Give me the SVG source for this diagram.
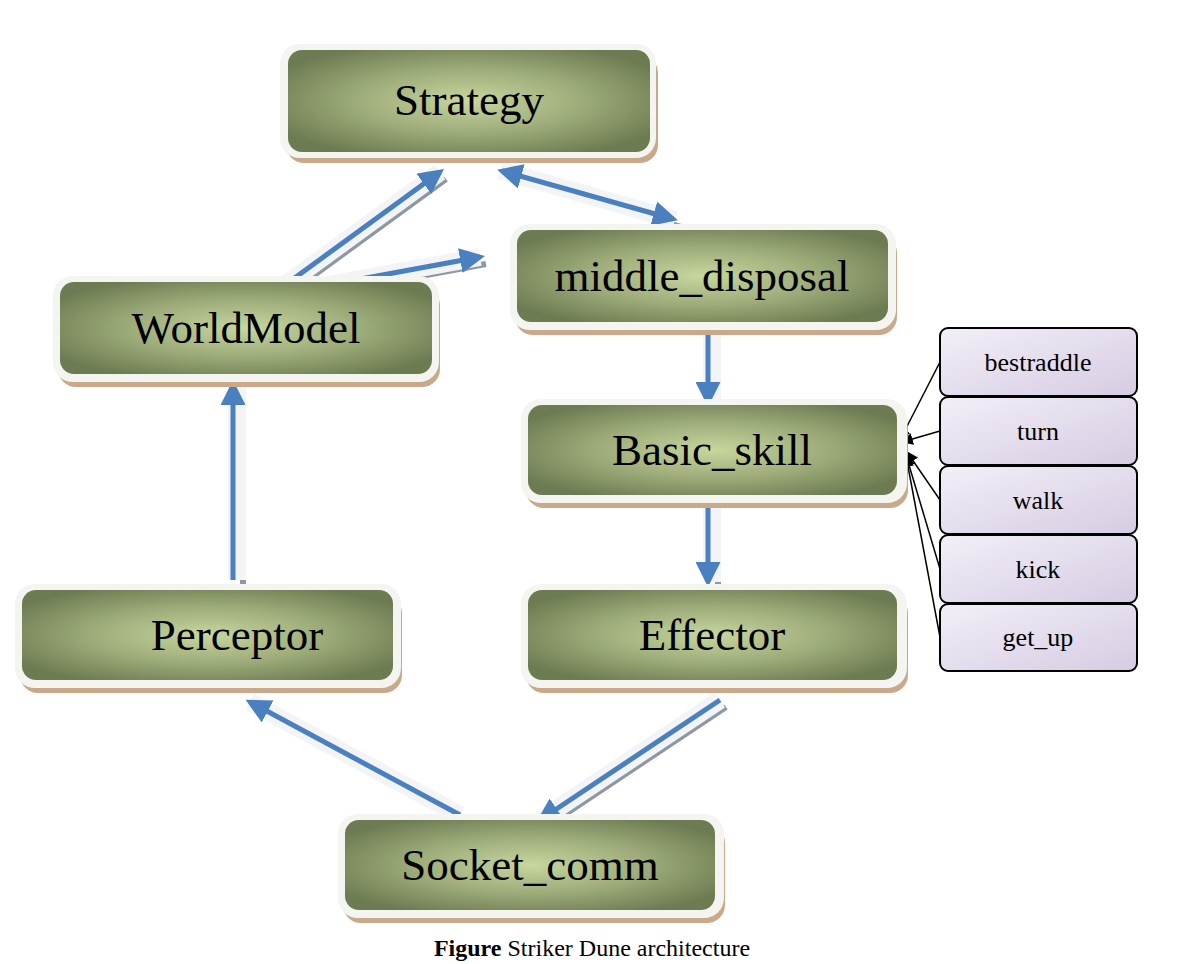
<svg xmlns="http://www.w3.org/2000/svg" width="1185" height="964" viewBox="0 0 1185 964">
<defs>
<radialGradient id="g" cx="0.5" cy="0.5" r="0.6">
<stop offset="0" stop-color="#c8d79e"/><stop offset="0.55" stop-color="#9aa977"/><stop offset="1" stop-color="#6d7b52"/>
</radialGradient>
<linearGradient id="p" x1="0" y1="0" x2="1" y2="1">
<stop offset="0" stop-color="#f3eff7"/><stop offset="1" stop-color="#d6cce3"/>
</linearGradient>
<marker id="bh" viewBox="0 0 10 10" refX="8" refY="5" markerWidth="5" markerHeight="5" orient="auto-start-reverse" markerUnits="strokeWidth"><path d="M0,0L10,5L0,10z" fill="#4a7fc0"/></marker>
<marker id="kh" viewBox="0 0 10 10" refX="9" refY="5" markerWidth="12" markerHeight="12" orient="auto" markerUnits="userSpaceOnUse"><path d="M0,0L10,5L0,10z" fill="#000"/></marker>
</defs>
<style>
.sh{fill:#c9a98a}.halo{fill:#f4f4f0}.box{fill:url(#g)}
.t{font-family:"Liberation Serif",serif;font-size:45px;text-anchor:middle;fill:#000}
.s{font-family:"Liberation Serif",serif;font-size:26px;text-anchor:middle;fill:#000}
.pb{fill:url(#p);stroke:#000;stroke-width:2}
.w{stroke:#f2f4f6;stroke-width:18;fill:none}
.gy{stroke:#8e98a2;stroke-width:6;fill:none}
.b{stroke:#4a7fc0;stroke-width:5;fill:none}
.k{stroke:#000;stroke-width:1.5;fill:none}
</style>
<g id="connectors">
<g transform="translate(6,7)"><path class="gy" d="M285,285L440,172M290,292L480,257M500,170L675,220M712,328L712,402M712,505L712,582M237,580L237,385M460,815L250,702M720,700L540,820"/></g>
<path class="w" d="M285,285L440,172M290,292L480,257M500,170L675,220M712,328L712,402M712,505L712,582M237,580L237,385M460,815L250,702M720,700L540,820"/>
<path class="b" marker-end="url(#bh)" d="M285,285L440,172"/>
<path class="b" marker-end="url(#bh)" d="M290,292L480,257"/>
<path class="b" marker-start="url(#bh)" marker-end="url(#bh)" d="M502,171L673,219"/>
<path class="b" marker-end="url(#bh)" d="M708,328L708,402"/>
<path class="b" marker-end="url(#bh)" d="M708,505L708,582"/>
<path class="b" marker-end="url(#bh)" d="M233,580L233,385"/>
<path class="b" marker-end="url(#bh)" d="M460,815L250,702"/>
<path class="b" marker-end="url(#bh)" d="M720,700L540,820"/>
<path class="k" marker-end="url(#kh)" d="M940,362L900,440"/>
<path class="k" marker-end="url(#kh)" d="M940,431L902,442"/>
<path class="k" marker-end="url(#kh)" d="M940,500L907,452"/>
<path class="k" marker-end="url(#kh)" d="M940,569L906,455"/>
<path class="k" marker-end="url(#kh)" d="M940,637L906,456"/>
</g>
<g id="strategy"><rect class="sh" x="286" y="55" width="372" height="108" rx="18"/><rect class="halo" x="280" y="44" width="376" height="114" rx="20"/><rect class="box" x="288" y="50" width="362" height="102" rx="14"/><text class="t" x="469" y="115">Strategy</text></g>
<g id="worldmodel"><rect class="sh" x="58" y="287" width="382" height="100" rx="18"/><rect class="halo" x="53" y="276" width="386" height="106" rx="20"/><rect class="box" x="60" y="282" width="372" height="92" rx="14"/><text class="t" x="246" y="343">WorldModel</text></g>
<g id="middle_disposal"><rect class="sh" x="515" y="235" width="382" height="100" rx="18"/><rect class="halo" x="510" y="224" width="386" height="106" rx="20"/><rect class="box" x="517" y="230" width="371" height="92" rx="14"/><text class="t" x="702" y="291">middle_disposal</text></g>
<g id="basic_skill"><rect class="sh" x="526" y="410" width="382" height="98" rx="18"/><rect class="halo" x="521" y="399" width="386" height="104" rx="20"/><rect class="box" x="528" y="405" width="369" height="90" rx="14"/><text class="t" x="712" y="465">Basic_skill</text></g>
<g id="perceptor"><rect class="sh" x="20" y="595" width="382" height="98" rx="18"/><rect class="halo" x="15" y="584" width="386" height="104" rx="20"/><rect class="box" x="22" y="590" width="371" height="90" rx="14"/><text class="t" x="237" y="650">Perceptor</text></g>
<g id="effector"><rect class="sh" x="526" y="595" width="382" height="98" rx="18"/><rect class="halo" x="521" y="584" width="386" height="104" rx="20"/><rect class="box" x="528" y="590" width="369" height="90" rx="14"/><text class="t" x="712" y="650">Effector</text></g>
<g id="socket_comm"><rect class="sh" x="343" y="825" width="382" height="98" rx="18"/><rect class="halo" x="338" y="814" width="386" height="104" rx="20"/><rect class="box" x="345" y="820" width="370" height="90" rx="14"/><text class="t" x="530" y="880">Socket_comm</text></g>
<g id="bestraddle"><rect class="pb" x="940" y="328" width="197" height="68" rx="8"/><text class="s" x="1038" y="371">bestraddle</text></g>
<g id="turn"><rect class="pb" x="940" y="397" width="197" height="68" rx="8"/><text class="s" x="1038" y="440">turn</text></g>
<g id="walk"><rect class="pb" x="940" y="466" width="197" height="68" rx="8"/><text class="s" x="1038" y="509">walk</text></g>
<g id="kick"><rect class="pb" x="940" y="535" width="197" height="68" rx="8"/><text class="s" x="1038" y="578">kick</text></g>
<g id="get_up"><rect class="pb" x="940" y="604" width="197" height="67" rx="8"/><text class="s" x="1038" y="646">get_up</text></g>
<text x="592" y="956" font-family="Liberation Serif,serif" font-size="24" text-anchor="middle"><tspan font-weight="bold">Figure</tspan> Striker Dune architecture</text>
</svg>
